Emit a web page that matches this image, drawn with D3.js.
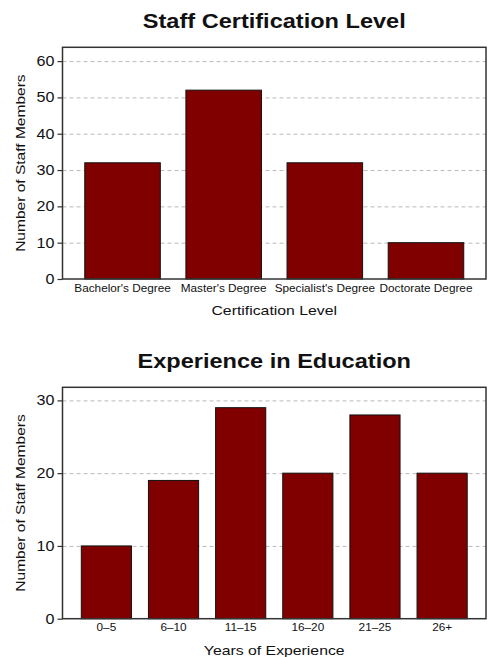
<!DOCTYPE html>
<html>
<head>
<meta charset="utf-8">
<script src="https://cdn.jsdelivr.net/npm/d3@7"></script>
<style>
  body { margin: 0; background: #fff; }
  text { font-family: "Liberation Sans", Arial, sans-serif; fill: #111; }
  .grid line { stroke: #bbb; stroke-dasharray: 4,3; }
  .grid .domain { display: none; }
  .frame { fill: none; stroke: #333; stroke-width: 1.5; }
  .bar { fill: #800000; stroke: #111; stroke-width: 1; }
</style>
</head>
<body>
<svg width="488" height="657"></svg>
<script>
// chart 1: certification
const certLevels = ["Bachelor's Degree", "Master's Degree", "Specialist's Degree", "Doctorate Degree"];
const certCounts = [32, 52, 32, 10];
const certTicks = [0, 10, 20, 30, 40, 50, 60];

// chart 2: experience
const expGroups = ["0–5", "6–10", "11–15", "16–20", "21–25", "26+"];
const expCounts = [10, 19, 29, 20, 28, 20];
const expTicks = [0, 10, 20, 30];

const svg = d3.select("svg");

// the reference font runs a bit wider than Liberation Sans, so widen text a little
function widen(sel, k) {
    sel.each(function() {
        const w = this.getComputedTextLength();
        d3.select(this)
            .attr("textLength", w * k)
            .attr("lengthAdjust", "spacingAndGlyphs");
    });
}

function drawPanel(opts) {
    const left = 62.5, right = 486;
    const top = opts.top, bottom = opts.bottom;

    let x = d3.scaleBand()
        .domain(opts.cats)
        .range([left, right])
        .paddingInner(0.253)
        .paddingOuter(opts.outer);

    let y = d3.scaleLinear().domain([0, opts.ymax]).range([bottom, top]);

    const g = svg.append("g");

    // dashed grid
    g.append("g")
        .attr("class", "grid")
        .attr("transform", "translate(" + left + ",0)")
        .call(d3.axisRight(y).tickValues(opts.ticks.filter(t => t > 0))
            .tickSize(right - left).tickFormat(""));

    // bars
    g.selectAll("rect.bar")
        .data(opts.values)
        .enter()
        .append("rect")
        .attr("class", "bar")
        .attr("x", (d, i) => x(opts.cats[i]))
        .attr("width", x.bandwidth())
        .attr("y", d => y(d))
        .attr("height", d => bottom - y(d));

    // frame
    g.append("rect")
        .attr("class", "frame")
        .attr("x", left).attr("y", top)
        .attr("width", right - left).attr("height", bottom - top);

    // y axis
    const ya = g.append("g")
        .attr("transform", "translate(" + left + ",0)")
        .call(d3.axisLeft(y).tickValues(opts.ticks).tickSize(5).tickPadding(3));
    ya.select(".domain").remove();
    ya.selectAll("line").attr("stroke", "#333").attr("stroke-width", 1.2);
    ya.selectAll("text").style("font-size", "14px").attr("fill", "#111");
    widen(ya.selectAll("text"), 1.15);

    // x axis labels
    const xa = g.append("g")
        .attr("transform", "translate(0," + bottom + ")")
        .call(d3.axisBottom(x).tickSize(0).tickPadding(5));
    xa.select(".domain").remove();
    xa.selectAll("text").style("font-size", "11px").attr("fill", "#111");
    widen(xa.selectAll("text"), 1.07);

    // titles
    g.append("text")
        .attr("x", (left + right) / 2)
        .attr("y", opts.titleY)
        .attr("text-anchor", "middle")
        .style("font-size", "20px")
        .style("font-weight", "bold")
        .text(opts.title)
        .call(widen, 1.177);

    g.append("text")
        .attr("x", (left + right) / 2)
        .attr("y", bottom + 36)
        .attr("text-anchor", "middle")
        .style("font-size", "13.5px")
        .text(opts.xlabel)
        .call(widen, 1.17);

    g.append("text")
        .attr("transform", "translate(25," + ((top + bottom) / 2) + ") rotate(-90)")
        .attr("text-anchor", "middle")
        .style("font-size", "13.5px")
        .text("Number of Staff Members")
        .call(widen, 1.15);
}

drawPanel({
    cats: certLevels, values: certCounts, ticks: certTicks,
    top: 47.3, bottom: 279, ymax: 63.8, outer: 0.22,
    title: "Staff Certification Level", titleY: 28,
    xlabel: "Certification Level"
});

drawPanel({
    cats: expGroups, values: expCounts, ticks: expTicks,
    top: 387.3, bottom: 618.7, ymax: 31.8, outer: 0.28,
    title: "Experience in Education", titleY: 368,
    xlabel: "Years of Experience"
});
</script>
</body>
</html>
